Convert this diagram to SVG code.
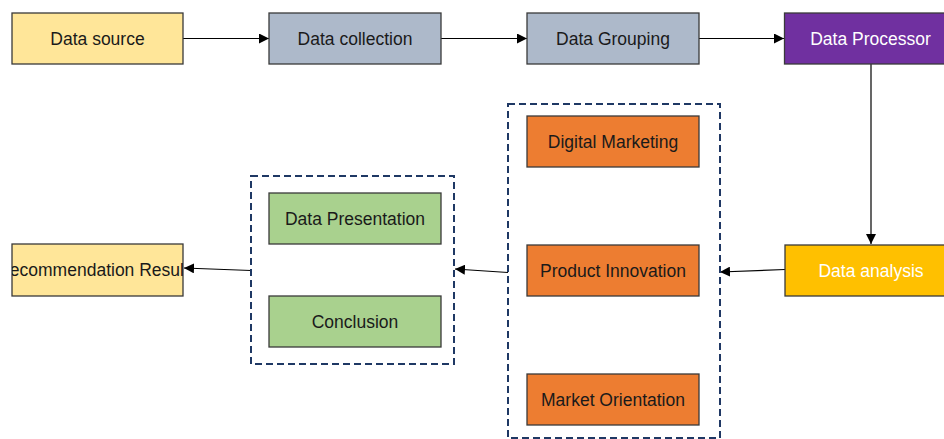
<svg xmlns="http://www.w3.org/2000/svg" width="944" height="439" viewBox="0 0 944 439">
  <defs>
    <marker id="arrow" viewBox="0 0 10 10" refX="10" refY="5" markerWidth="10" markerHeight="10" markerUnits="userSpaceOnUse" orient="auto">
      <path d="M0,0 L10,5 L0,10 Z" fill="#000"/>
    </marker>
    <clipPath id="clipRec">
      <rect x="12" y="244" width="171" height="52"/>
    </clipPath>
  </defs>
  <style>
    .box { stroke: #3a3a3a; stroke-width: 1.3; }
    .lbl { font-family: "Liberation Sans", Arial, sans-serif; font-size: 17.5px; fill: #1a1a1a; text-anchor: middle; }
    .light { fill: #ffffff; }
    .group { fill: none; stroke: #1f3864; stroke-width: 2; stroke-dasharray: 7 4; }
    .conn { stroke: #000; stroke-width: 1.2; fill: none; marker-end: url(#arrow); }
  </style>
  <rect width="944" height="439" fill="#ffffff"/>

  <g id="connectors">
    <line class="conn" x1="183" y1="38.5" x2="269" y2="38.5"/>
    <line class="conn" x1="441" y1="38.5" x2="527" y2="38.5"/>
    <line class="conn" x1="699" y1="38.5" x2="784" y2="38.5"/>
    <line class="conn" x1="871" y1="64" x2="871" y2="244"/>
    <line class="conn" x1="785" y1="269.5" x2="720" y2="272"/>
    <line class="conn" x1="508" y1="272.5" x2="455" y2="269"/>
    <line class="conn" x1="251" y1="270.5" x2="184" y2="268"/>
  </g>

  <g id="data-source">
    <rect class="box" x="12" y="13" width="171" height="51" fill="#ffe699"/>
    <text class="lbl" x="97.5" y="44.5">Data source</text>
  </g>
  <g id="data-collection">
    <rect class="box" x="269" y="13" width="172" height="51" fill="#adb9ca"/>
    <text class="lbl" x="355" y="44.5">Data collection</text>
  </g>
  <g id="data-grouping">
    <rect class="box" x="527" y="13" width="172" height="51" fill="#adb9ca"/>
    <text class="lbl" x="613" y="44.5">Data Grouping</text>
  </g>
  <g id="data-processor">
    <rect class="box" x="784.5" y="13" width="172" height="51" fill="#7030a0"/>
    <text class="lbl light" x="870.5" y="44.5">Data Processor</text>
  </g>
  <g id="data-analysis">
    <rect class="box" x="785" y="245" width="172" height="51" fill="#ffc000"/>
    <text class="lbl light" x="871" y="276.5">Data analysis</text>
  </g>

  <g id="marketing-group">
    <rect class="group" x="508" y="104" width="212" height="334"/>
    <g id="digital-marketing">
      <rect class="box" x="527" y="116" width="172" height="51" fill="#ed7d31"/>
      <text class="lbl" x="613" y="147.5">Digital Marketing</text>
    </g>
    <g id="product-innovation">
      <rect class="box" x="527" y="245" width="172" height="51" fill="#ed7d31"/>
      <text class="lbl" x="613" y="276.5">Product Innovation</text>
    </g>
    <g id="market-orientation">
      <rect class="box" x="527" y="374" width="172" height="51" fill="#ed7d31"/>
      <text class="lbl" x="613" y="405.5">Market Orientation</text>
    </g>
  </g>

  <g id="output-group">
    <rect class="group" x="251" y="176" width="203" height="188"/>
    <g id="data-presentation">
      <rect class="box" x="269" y="193" width="172" height="51" fill="#a9d18e"/>
      <text class="lbl" x="355" y="224.5">Data Presentation</text>
    </g>
    <g id="conclusion">
      <rect class="box" x="269" y="296" width="172" height="51" fill="#a9d18e"/>
      <text class="lbl" x="355" y="327.5">Conclusion</text>
    </g>
  </g>

  <g id="recommendation-result">
    <rect class="box" x="12" y="244" width="171" height="52" fill="#ffe699"/>
    <text class="lbl" x="93" y="276" clip-path="url(#clipRec)">Recommendation Result</text>
  </g>
</svg>
